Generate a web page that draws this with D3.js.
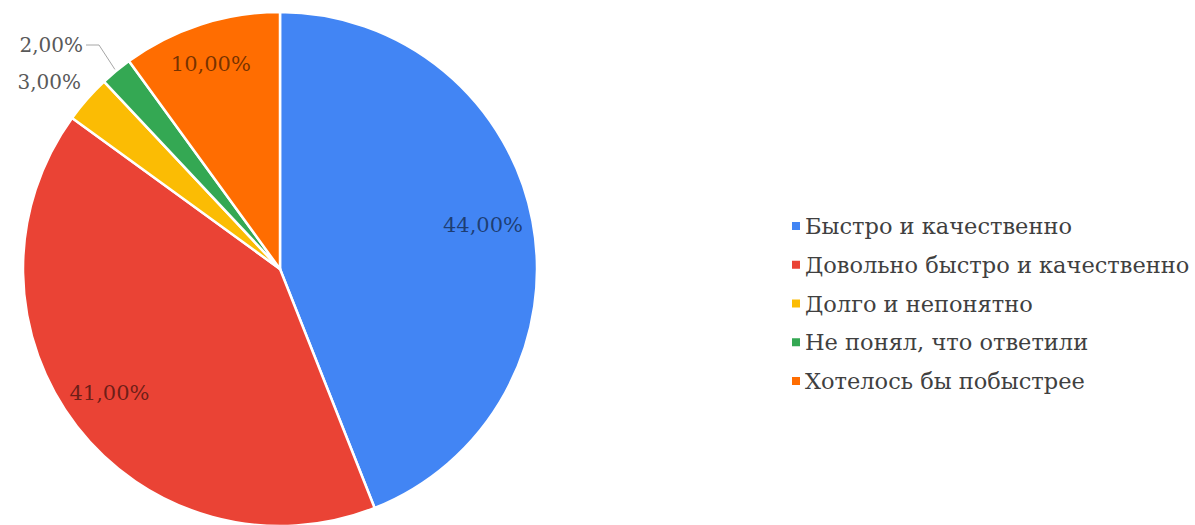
<!DOCTYPE html>
<html>
<head>
<meta charset="utf-8">
<script src="https://cdn.jsdelivr.net/npm/d3@7"></script>
<style>
  html, body { margin: 0; padding: 0; background: #fff; }
  svg { display: block; }
</style>
</head>
<body>
<svg id="chart" width="1195" height="525"></svg>
<script>
const categories = [
  "Быстро и качественно",
  "Довольно быстро и качественно",
  "Долго и непонятно",
  "Не понял, что ответили",
  "Хотелось бы побыстрее"
];
const values = [44, 41, 3, 2, 10];
const valueLabels = ["44,00%", "41,00%", "3,00%", "2,00%", "10,00%"];
const colors = ["#4285F4", "#EA4335", "#FBBC04", "#34A853", "#FF6D01"];

const svg = d3.select("#chart");
const cx = 280, cy = 269, r = 257;

const data = categories.map((c, i) => ({ name: c, value: values[i], label: valueLabels[i], color: colors[i] }));

const pie = d3.pie().value(d => d.value).sort(null);
const arcs = pie(data);
const arc = d3.arc().innerRadius(0).outerRadius(r);

const g = svg.append("g").attr("transform", `translate(${cx},${cy})`);
g.selectAll("path.slice").data(arcs).join("path")
  .attr("class", "slice")
  .attr("d", arc)
  .attr("fill", d => d.data.color)
  .attr("stroke", "#fff")
  .attr("stroke-width", 2.5)
  .attr("stroke-linejoin", "round");

const fontFam = "'DejaVu Serif', serif";
const labelArc = d3.arc().innerRadius(r * 0.82).outerRadius(r * 0.82);

// inside labels for big slices
arcs.forEach(a => {
  if (a.data.value >= 5) {
    const [x, y] = labelArc.centroid(a);
    g.append("text")
      .attr("x", x - 4).attr("y", y - 5)
      .attr("text-anchor", "middle")
      .attr("dominant-baseline", "central")
      .attr("font-family", fontFam)
      .attr("font-size", 21)
      .attr("fill", "#000")
      .attr("fill-opacity", 0.55)
      .text(a.data.label);
  }
});

// outside labels for small slices
const outPos = {
  "3,00%": { tx: 81 - cx, ty: 82 - cy, lead: false },
  "2,00%": { tx: 83 - cx, ty: 45 - cy, lead: true }
};
arcs.filter(a => a.data.value < 5).forEach(a => {
  const p = outPos[a.data.label];
  g.append("text")
    .attr("x", p.tx).attr("y", p.ty)
    .attr("text-anchor", "end")
    .attr("dominant-baseline", "central")
    .attr("font-family", fontFam)
    .attr("font-size", 20)
    .attr("fill", "#595959")
    .text(a.data.label);
  if (p.lead) {
    const mid = (a.startAngle + a.endAngle) / 2;
    const ex = Math.sin(mid) * (r + 2), ey = -Math.cos(mid) * (r + 2);
    g.append("path")
      .attr("d", `M${p.tx + 3},${p.ty} L${p.tx + 16},${p.ty} L${ex},${ey}`)
      .attr("fill", "none")
      .attr("stroke", "#a6a6a6")
      .attr("stroke-width", 1);
  }
});

// legend
const legendY = d3.scalePoint().domain(categories).range([226, 381]);
const lg = svg.append("g");
const items = lg.selectAll("g.item").data(data).join("g")
  .attr("class", "item")
  .attr("transform", d => `translate(792,${legendY(d.name)})`);
items.append("rect")
  .attr("x", 0).attr("y", -4).attr("width", 8).attr("height", 8)
  .attr("fill", d => d.color);
items.append("text")
  .attr("x", 13).attr("y", 0)
  .attr("dominant-baseline", "central")
  .attr("font-family", fontFam)
  .attr("font-size", 22.5)
  .attr("fill", "#404040")
  .text(d => d.name);
</script>
</body>
</html>
